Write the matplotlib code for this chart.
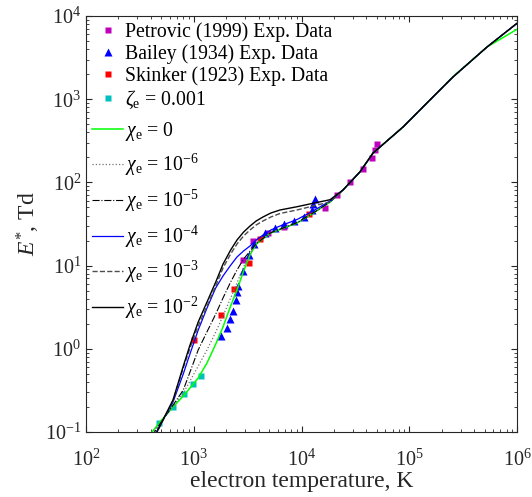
import numpy as np
import matplotlib.pyplot as plt

plt.rcParams['font.family'] = ['Liberation Serif', 'DejaVu Serif']
plt.rcParams['mathtext.fontset'] = 'custom'
plt.rcParams['mathtext.rm'] = 'Liberation Serif'
plt.rcParams['mathtext.it'] = 'Liberation Serif:italic'

# electron temperature grid, K
T_low = [410, 486, 642, 800, 923, 1100, 1327, 1600, 1868, 2200,
         2520, 2900, 3327, 3800, 4391, 5200, 6317, 9083, 12785, 18390]
T_high = [24270, 34900, 46090, 87500, 155800, 254700, 526800, 1e6]

# E*, Td for each chi_e
E_high = [81, 134, 225, 463, 980, 1849, 4240, 8170]
E_high_green = [81, 134, 225, 463, 980, 1870, 4240, 6920]
E_chi0 = [0.1, 0.132, 0.2, 0.271, 0.338, 0.446, 0.675, 1.14, 1.83, 3.27,
          5.09, 8.61, 13.4, 18.2, 21, 24.7, 27.2, 32.5, 42.5, 58.1]
E_chi6 = [0.095, 0.128, 0.203, 0.294, 0.41, 0.62, 0.97, 1.59, 2.48, 4.08,
          6.2, 9.6, 13.8, 18.5, 21, 24.8, 27.3, 32.6, 42.6, 58.2]
E_chi5 = [0.09, 0.125, 0.21, 0.32, 0.526, 0.97, 1.6, 2.62, 4.08, 6.35,
          8.85, 12, 14.9, 18.2, 21.2, 24.9, 27.4, 32.8, 42.8, 58.3]
E_chi4 = [0.08, 0.12, 0.229, 0.50, 0.87, 1.68, 3.09, 5.4, 7.5, 10.1,
          12.7, 15, 17.2, 20.3, 23.3, 26.8, 29.9, 35.8, 45.3, 59.8]
E_chi3 = [0.075, 0.117, 0.236, 0.59, 1.02, 1.88, 3.27, 5.69, 9.35, 13.8,
          18.2, 22.7, 26.8, 30.8, 34.4, 38.4, 42.3, 46.6, 52, 58.1]
E_chi2 = [0.075, 0.119, 0.243, 0.62, 1.11, 2.1, 3.65, 6.35, 10.4, 15.4,
          20.3, 25.3, 29.9, 34.4, 38.4, 42.9, 46.6, 51, 56.1, 61.9]

# experimental data
T_petrovic = [2895, 3570, 4836, 6807, 16520, 21580, 28180, 37240, 45080, 48080, 49890]
E_petrovic = [11.7, 19.8, 24.6, 29.3, 48.8, 70.6, 101, 146, 199, 245, 290]
T_bailey = [1809, 2014, 2156, 2299, 2449, 2545, 2602, 2864, 3243, 3623,
            4581, 5675, 6880, 8511, 10540, 12430, 12920, 13430]
E_bailey = [1.43, 1.80, 2.28, 2.88, 3.81, 4.75, 5.69, 8.73, 13.4, 18.2,
            24.4, 28.1, 31.2, 34.8, 38.9, 47.2, 55.7, 63.1]
T_skinker = [1005, 1791, 2363, 3289, 4146, 11740]
E_skinker = [1.28, 2.58, 5.19, 10.8, 20.6, 41.7]
T_zeta = [479, 638, 812, 978, 1160]
E_zeta = [0.129, 0.198, 0.284, 0.374, 0.475]

fig = plt.figure(figsize=(5.32, 4.97), dpi=100)
ax = fig.add_axes([86/532, 65/497, 431/532, 416/497])

pts = []
pts += ax.plot(T_petrovic, E_petrovic, 's', color='m', ms=5, mec='none',
               label='Petrovic (1999) Exp. Data')
pts += ax.plot(T_bailey, E_bailey, '^', color='b', ms=6, mec='none',
               label='Bailey (1934) Exp. Data')
pts += ax.plot(T_skinker, E_skinker, 's', color='r', ms=5, mec='none',
               label='Skinker (1923) Exp. Data')
pts += ax.plot(T_zeta, E_zeta, 's', color='c', ms=5, mec='none',
               label=r'$\zeta_\mathrm{e}$ = 0.001')

T_all = T_low + T_high
lines = []
lines += ax.plot(T_all, E_chi0 + E_high_green, '-', color='#00ff00', lw=1.1,
                 label=r'$\chi_\mathrm{e}$ = 0')
lines += ax.plot(T_all, E_chi6 + E_high, ':', color='0.45', lw=0.9,
                 label=r'$\chi_\mathrm{e}$ = 10$^{-6}$')
lines += ax.plot(T_all, E_chi5 + E_high, '-.', color='k', lw=0.8,
                 label=r'$\chi_\mathrm{e}$ = 10$^{-5}$')
lines += ax.plot(T_all, E_chi4 + E_high, '-', color='b', lw=0.9,
                 label=r'$\chi_\mathrm{e}$ = 10$^{-4}$')
lines += ax.plot(T_all, E_chi3 + E_high, '--', color='0.3', lw=1.0,
                 label=r'$\chi_\mathrm{e}$ = 10$^{-3}$')
lines += ax.plot(T_all, E_chi2 + E_high, '-', color='k', lw=1.0,
                 label=r'$\chi_\mathrm{e}$ = 10$^{-2}$')

ax.set_xscale('log')
ax.set_yscale('log')
ax.set_xlim(1e2, 1e6)
ax.set_ylim(1e-1, 1e4)

ax.set_xlabel('electron temperature, K', fontsize=17, color='0.15', labelpad=0)
ax.set_ylabel(r'$E^{*}$, Td', fontsize=17, color='0.15', labelpad=2)

ax.tick_params(which='both', direction='in', top=True, right=True,
               colors='0.15', labelsize=14.5)
ax.tick_params(axis='x', which='major', pad=13)
ax.tick_params(which='major', length=4)
ax.tick_params(which='minor', length=2)
for s in ax.spines.values():
    s.set_color('0.15')
    s.set_linewidth(0.8)

leg1 = ax.legend(handles=pts, loc='upper left', bbox_to_anchor=(0, 1.0),
                 frameon=False, fontsize=14.2, handlelength=1.6,
                 handletextpad=0.1, labelspacing=0.13,
                 borderaxespad=0.1, borderpad=0.2)
ax.add_artist(leg1)
ax.legend(handles=lines, loc='upper left', bbox_to_anchor=(0, 0.765),
          frameon=False, fontsize=14.2, handlelength=1.6, handletextpad=0.1,
          labelspacing=0.48, borderaxespad=0.1, borderpad=0.2)

fig.savefig('out.png', dpi=100)
